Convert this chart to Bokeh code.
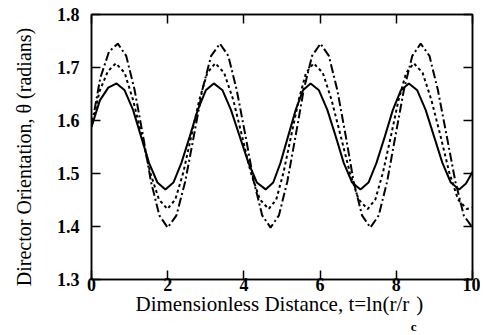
from bokeh.plotting import figure
from bokeh.models import LinearAxis, FixedTicker, Range1d, Title
from bokeh.embed import file_html
from bokeh.resources import INLINE

# ---- data ----
solid_x = [0.00, 0.22, 0.44, 0.66, 0.87, 1.09, 1.30, 1.51, 1.73, 1.94,
           2.15, 2.36, 2.58, 2.79, 3.00, 3.21, 3.44, 3.66, 3.89, 4.12,
           4.34, 4.57, 4.77, 4.96, 5.16, 5.36, 5.55, 5.75, 5.97, 6.19,
           6.41, 6.62, 6.84, 7.06, 7.27, 7.48, 7.70, 7.91, 8.12, 8.33,
           8.55, 8.77, 8.99, 9.21, 9.43, 9.65, 9.83, 10.00]
solid_y = [1.588, 1.638, 1.662, 1.670, 1.657, 1.620, 1.570, 1.520, 1.483, 1.470,
           1.483, 1.520, 1.570, 1.620, 1.657, 1.670, 1.657, 1.620, 1.570, 1.520,
           1.483, 1.470, 1.483, 1.520, 1.570, 1.620, 1.657, 1.670, 1.657, 1.620,
           1.570, 1.520, 1.483, 1.470, 1.483, 1.520, 1.570, 1.620, 1.657, 1.670,
           1.657, 1.620, 1.570, 1.520, 1.483, 1.470, 1.481, 1.503]

dotted_x = [0.00, 0.21, 0.43, 0.64, 0.87, 1.09, 1.32, 1.54, 1.77, 1.99,
            2.20, 2.41, 2.62, 2.83, 3.04, 3.25, 3.48, 3.72, 3.95, 4.18,
            4.42, 4.65, 4.85, 5.04, 5.24, 5.44, 5.63, 5.83, 6.07, 6.30,
            6.54, 6.78, 7.01, 7.25, 7.45, 7.65, 7.86, 8.06, 8.26, 8.46,
            8.69, 8.92, 9.16, 9.39, 9.62, 9.85, 10.00]
dotted_y = [1.588, 1.655, 1.693, 1.708, 1.690, 1.639, 1.571, 1.502, 1.451, 1.433,
            1.451, 1.502, 1.571, 1.639, 1.690, 1.708, 1.690, 1.639, 1.571, 1.502,
            1.451, 1.433, 1.451, 1.502, 1.571, 1.639, 1.690, 1.708, 1.690, 1.639,
            1.571, 1.502, 1.451, 1.433, 1.451, 1.502, 1.571, 1.639, 1.690, 1.708,
            1.690, 1.639, 1.571, 1.502, 1.451, 1.433, 1.436]

dashdot_x = [0.00, 0.23, 0.46, 0.69, 0.91, 1.13, 1.35, 1.56, 1.78, 2.00,
             2.23, 2.46, 2.69, 2.91, 3.14, 3.37, 3.59, 3.81, 4.04, 4.26,
             4.48, 4.70, 4.92, 5.14, 5.36, 5.57, 5.79, 6.01, 6.23, 6.45,
             6.67, 6.88, 7.10, 7.32, 7.54, 7.76, 7.98, 8.20, 8.42, 8.64,
             8.87, 9.09, 9.32, 9.55, 9.77, 10.00]
dashdot_y = [1.588, 1.680, 1.730, 1.745, 1.722, 1.658, 1.572, 1.485, 1.421, 1.398,
             1.421, 1.485, 1.572, 1.658, 1.722, 1.745, 1.722, 1.658, 1.572, 1.485,
             1.421, 1.398, 1.421, 1.485, 1.572, 1.658, 1.722, 1.745, 1.722, 1.658,
             1.572, 1.485, 1.421, 1.398, 1.421, 1.485, 1.572, 1.658, 1.722, 1.745,
             1.722, 1.658, 1.572, 1.485, 1.421, 1.398]

x_ticks = [0, 2, 4, 6, 8, 10]
y_ticks = [1.3, 1.4, 1.5, 1.6, 1.7, 1.8]
y_tick_labels = {1.3: "1.3", 1.4: "1.4", 1.5: "1.5", 1.6: "1.6", 1.7: "1.7", 1.8: "1.8"}
x_label = "Dimensionless Distance, t=ln(r/r \u200a)\u00a0"
x_label_sub = "c"
y_label = "Director Orientation, \u03b8 (radians)\u00a0\u00a0\u00a0\u00a0"

FONT = "Liberation Serif"

p = figure(width=480, height=335, output_backend="svg", toolbar_location=None,
           x_range=Range1d(0, 10), y_range=Range1d(1.3, 1.8),
           min_border_left=91, min_border_right=8, min_border_top=14,
           min_border_bottom=54, x_axis_location=None, y_axis_location=None)
p.background_fill_color = "white"
p.border_fill_color = "white"
p.outline_line_color = "black"
p.outline_line_width = 1.5
p.xgrid.visible = False
p.ygrid.visible = False

def style_axis(ax, ticks, show_labels):
    ax.ticker = FixedTicker(ticks=ticks)
    ax.major_tick_in = 9
    ax.major_tick_out = 0
    ax.minor_tick_line_color = None
    ax.axis_line_color = "black"
    ax.axis_line_width = 1.5
    ax.major_tick_line_color = "black"
    ax.major_tick_line_width = 1.5
    ax.major_label_text_font = FONT
    ax.major_label_text_font_style = "bold"
    ax.major_label_text_color = "black"
    if show_labels:
        ax.major_label_text_font_size = "18px"
    else:
        ax.major_label_text_font_size = "0px"
        ax.major_label_standoff = 0

bottom = LinearAxis()
style_axis(bottom, x_ticks, True)
bottom.major_label_standoff = -2
bottom.axis_label = x_label
bottom.axis_label_text_font = FONT
bottom.axis_label_text_font_size = "21px"
bottom.axis_label_text_font_style = "normal"
bottom.axis_label_text_color = "black"
bottom.axis_label_standoff = -2
p.add_layout(bottom, "below")

left = LinearAxis()
style_axis(left, y_ticks, True)
left.major_label_overrides = y_tick_labels
left.major_label_standoff = 12
left.axis_label = y_label
left.axis_label_text_font = FONT
left.axis_label_text_font_size = "20px"
left.axis_label_text_font_style = "normal"
left.axis_label_text_color = "black"
left.axis_label_standoff = 19
p.add_layout(left, "left")

top = LinearAxis()
style_axis(top, x_ticks, False)
p.add_layout(top, "above")

right = LinearAxis()
style_axis(right, y_ticks, False)
p.add_layout(right, "right")

p.line(solid_x, solid_y, line_color="black", line_width=2)
p.line(dotted_x, dotted_y, line_color="black", line_width=2, line_dash="3 3")
p.line(dashdot_x, dashdot_y, line_color="black", line_width=2, line_dash="9 3 2 3")

# subscript "c" of r_c, as a small title right under the axis label
sub = Title(text=x_label_sub, align="right", offset=56, standoff=0,
            vertical_align="top",
            text_font=FONT, text_font_size="13px", text_font_style="bold",
            text_color="black")
p.add_layout(sub, "below")

open("out.html", "w").write(file_html(p, INLINE))
